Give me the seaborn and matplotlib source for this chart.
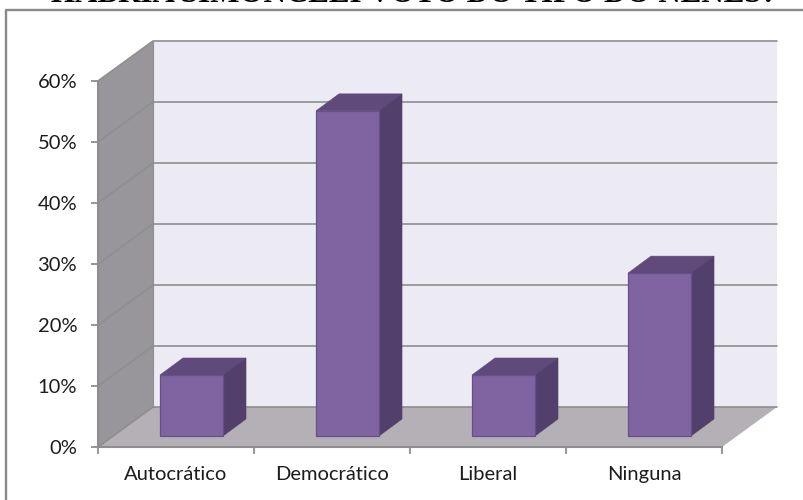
import numpy as np
import pandas as pd
import matplotlib
matplotlib.use('Agg')
import matplotlib.pyplot as plt
from matplotlib.lines import Line2D
from matplotlib.patches import Polygon
import seaborn as sns

# values
categories = ['Autocrático', 'Democrático', 'Liberal', 'Ninguna']
percent = [10.0, 53.3, 10.0, 26.7]
y_ticks = [0, 10, 20, 30, 40, 50, 60]
title_text = 'HABRÍA SIMONCELI VOTO DO TIPO DO NENES?'

# look of the fake 3D box
WALL = '#ECEAF2'
SIDE = '#98969B'
FLOOR = '#B4B0B5'
GRID = '#8E8E8E'
FRONT = '#8064A2'
BAR_EDGE = '#66508A'
BAR_TOP = '#604A7B'
BAR_SIDE = '#523F6B'

sns.set_theme(style='white')
plt.rcParams['font.family'] = ['Lato', 'DejaVu Sans']

fig = plt.figure(figsize=(8.04, 5.0), dpi=100, facecolor='white')
ax = fig.add_axes([98 / 804, 53 / 500, 624 / 804, 366 / 500])
ax.patch.set_visible(False)

df = pd.DataFrame({'respuesta': categories, 'valor': percent})
sns.barplot(data=df, x='respuesta', y='valor', color=FRONT, saturation=1,
            width=0.404, edgecolor=BAR_EDGE, linewidth=0.9, zorder=5, ax=ax)
ax.set_xlim(-0.5, 3.5)
ax.set_ylim(0, 60)

# depth of the box in data units (55 px right, 40 px up on screen)
depth_x = 55 / 156
depth_y = 40 / 366 * 60
x0, x1 = -0.5, 3.5
y_top = y_ticks[-1]

walls = [
    ([(x0 + depth_x, depth_y), (x1 + depth_x, depth_y), (x1 + depth_x, y_top + depth_y), (x0 + depth_x, y_top + depth_y)], WALL),
    ([(x0, 0), (x1, 0), (x1 + depth_x, depth_y), (x0 + depth_x, depth_y)], FLOOR),
    ([(x0, 0), (x0 + depth_x, depth_y), (x0 + depth_x, y_top + depth_y), (x0, y_top)], SIDE),
]
for pts, col in walls:
    ax.add_patch(Polygon(pts, closed=True, facecolor=col, edgecolor='none', clip_on=False, zorder=1))

for t in y_ticks:
    ax.plot([x0, x0 + depth_x, x1 + depth_x], [t, t + depth_y, t + depth_y],
            color=GRID, lw=1.2, clip_on=False, zorder=2, solid_joinstyle='miter')
ax.plot([x0 + depth_x, x0 + depth_x], [depth_y, y_top + depth_y], color=GRID, lw=0.8, clip_on=False, zorder=2)

# bars sit part way into the box, with their own top and side faces
shift_x = 15.5 / 156
shift_y = 11 / 366 * 60
bar_dx = 23 / 156
bar_dy = 17 / 366 * 60
for patch in ax.patches:
    if patch.get_zorder() != 5:
        continue
    patch.set_x(patch.get_x() + shift_x)
    patch.set_y(shift_y)
    patch.set_clip_on(False)
    left = patch.get_x()
    right = left + patch.get_width()
    low = patch.get_y()
    high = low + patch.get_height()
    top_face = [(left, high), (right, high), (right + bar_dx, high + bar_dy), (left + bar_dx, high + bar_dy)]
    side_face = [(right, low), (right + bar_dx, low + bar_dy), (right + bar_dx, high + bar_dy), (right, high)]
    ax.add_patch(Polygon(top_face, closed=True, facecolor=BAR_TOP, edgecolor=BAR_TOP, lw=0.4, clip_on=False, zorder=4))
    ax.add_patch(Polygon(side_face, closed=True, facecolor=BAR_SIDE, edgecolor=BAR_SIDE, lw=0.4, clip_on=False, zorder=4))

# axes: ticks on the category edges, labels between them
sns.despine(ax=ax, top=True, right=True)
for side in ['left', 'bottom']:
    ax.spines[side].set_color(GRID)
    ax.spines[side].set_linewidth(1.5)
    ax.spines[side].set_zorder(3)
ax.set_xlabel('')
ax.set_ylabel('')
ax.set_yticks(y_ticks)
ax.set_yticklabels([f'{t}%' for t in y_ticks])
ax.set_xticks(range(len(categories)))
ax.set_xticklabels(categories)
ax.set_xticks(np.arange(-0.5, 4.0, 1.0), minor=True)
ax.tick_params(axis='x', which='major', length=0, pad=14, labelsize=14.5, labelcolor='#1c1c1c')
ax.tick_params(axis='x', which='minor', length=5, width=1.3, color=GRID, bottom=True)
ax.tick_params(axis='y', length=5, width=1.3, color=GRID, left=True, pad=10, labelsize=14.5, labelcolor='#1c1c1c')

# chart frame, runs off the right and bottom of the crop
fig.add_artist(Line2D([6 / 804, 6 / 804, 1], [0, 490 / 500, 490 / 500], color='#8A8A8A', lw=1.7))

# heading, cut by the top edge of the crop
fig.text(414 / 804, 498 / 500, title_text, ha='center', va='baseline', fontsize=22.3,
         fontweight='bold', family=['Liberation Serif', 'DejaVu Serif'], color='black')

fig.savefig('out.png', dpi=100)
plt.close(fig)
